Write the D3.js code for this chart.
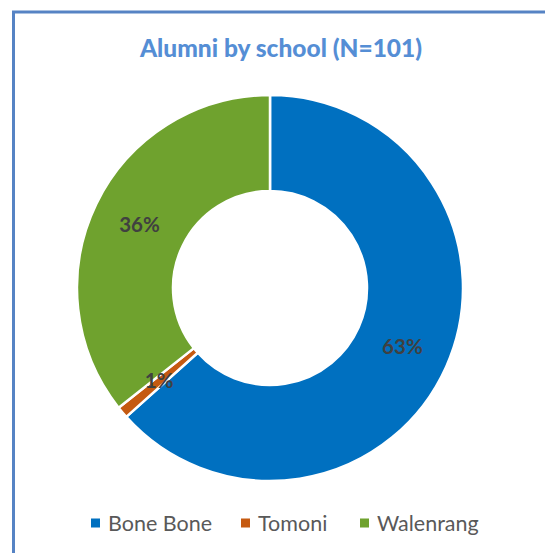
<!DOCTYPE html>
<html lang="en">
<head>
    <meta charset="UTF-8">
    <title>Alumni by school</title>
    <script src="https://d3js.org/d3.v7.min.js"></script>
    <style>
        body { margin: 0; background: #fff; }
        svg { display: block; }
        .title { font-family: Lato, "Open Sans", sans-serif; font-weight: 900; font-size: 24.5px; fill: #558ED5; }
        .label { font-family: Lato, "Open Sans", sans-serif; font-weight: bold; font-size: 20.5px; fill: #404040; }
        .legend text { font-family: Lato, "Open Sans", sans-serif; font-size: 21.5px; fill: #595959; }
    </style>
</head>
<body>
    <svg width="545" height="553"></svg>
    <script>
        const width = 545, height = 553;

        // data
        const schools = ["Bone Bone", "Tomoni", "Walenrang"];
        const counts = [64, 1, 36];
        const colors = ["#0070C0", "#C55A11", "#6FA22E"];
        const title = "Alumni by school (N=101)";

        const svg = d3.select("svg");

        // chart frame
        svg.append("rect")
            .attr("x", 13.5)
            .attr("y", 12)
            .attr("width", 700)
            .attr("height", 700)
            .attr("fill", "none")
            .attr("stroke", "#5683C4")
            .attr("stroke-width", 3);

        svg.append("text")
            .attr("class", "title")
            .attr("x", 281)
            .attr("y", 57)
            .attr("text-anchor", "middle")
            .text(title);

        const cx = 270, cy = 288, outerR = 193, innerR = 97;
        const total = d3.sum(counts);

        const pie = d3.pie().sort(null).value(d => d)(counts);
        const arc = d3.arc().innerRadius(innerR).outerRadius(outerR);
        const labelArc = d3.arc().innerRadius((innerR + outerR) / 2).outerRadius((innerR + outerR) / 2);

        const g = svg.append("g").attr("transform", `translate(${cx},${cy})`);

        g.selectAll(".slice").data(pie).enter().append("path")
            .attr("class", "slice")
            .attr("d", arc)
            .attr("fill", (d, i) => colors[i])
            .attr("stroke", "#fff")
            .attr("stroke-width", 2.5);

        g.selectAll(".label").data(pie).enter().append("text")
            .attr("class", "label")
            .attr("transform", d => `translate(${labelArc.centroid(d)})`)
            .attr("text-anchor", "middle")
            .attr("dy", "0.33em")
            .text(d => Math.round(d.value / total * 100) + "%");

        // legend
        const legendX = [91, 241, 360];
        const legend = svg.append("g").attr("class", "legend");
        const item = legend.selectAll("g").data(schools).enter().append("g")
            .attr("transform", (d, i) => `translate(${legendX[i]},523)`);
        item.append("rect")
            .attr("x", 0).attr("y", -4.5)
            .attr("width", 9).attr("height", 9)
            .attr("fill", (d, i) => colors[i]);
        item.append("text")
            .attr("x", 17)
            .attr("y", 8)
            .text(d => d);
    </script>
</body>
</html>
